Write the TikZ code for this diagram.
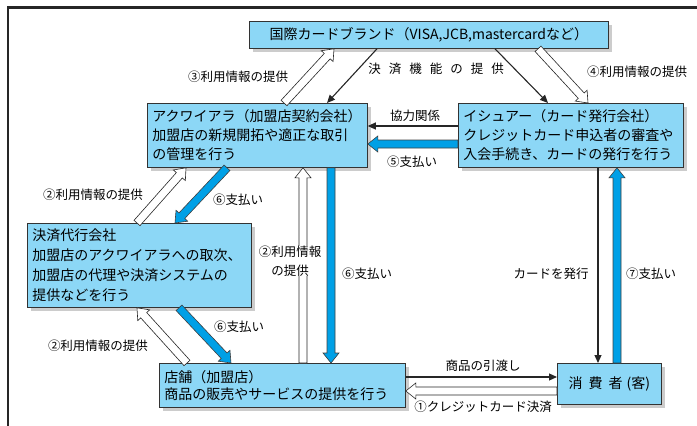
\documentclass[tikz,border=0pt]{standalone}
\usepackage{fontspec}
\setmainfont{Noto Sans CJK JP}
\usetikzlibrary{calc,shadows,arrows.meta}
\definecolor{boxblue}{RGB}{140,215,246}
\definecolor{payblue}{RGB}{0,160,230}
\newcommand\boxfont{\fontsize{14}{19}\selectfont}
\newcommand\lblfont{\fontsize{12.5}{19}\selectfont}
\def\sw{4pt}\def\hw{8pt}\def\hl{10pt}
\newcommand\blockarrow[3]{%
  \coordinate (bah) at ($(#3)!\hl!(#2)$);
  \draw[#1] ($(#2)!\sw!90:(#3)$) -- ($(bah)!\sw!-90:(#2)$) -- ($(bah)!\hw!-90:(#2)$) -- (#3)
    -- ($(bah)!\hw!90:(#2)$) -- ($(bah)!\sw!90:(#2)$) -- ($(#2)!\sw!-90:(#3)$) -- cycle;}
\tikzset{
  box/.style={draw=black!80, fill=boxblue, line width=0.8pt, inner xsep=5pt, inner ysep=0pt,
    anchor=north west, align=left, font=\boxfont,
    general shadow={fill=black!20, shadow xshift=4pt, shadow yshift=-4pt}},
  lbl/.style={font=\lblfont, inner sep=1pt, align=center},
  pay/.style={fill=payblue, draw=black!75, line width=0.6pt},
  info/.style={fill=white, draw=black!85, line width=0.6pt},
  thin/.style={draw=black!85, line width=1.1pt, -{Triangle[length=8pt,width=7pt]}},
  frame/.style={draw=black!85, line width=2.5pt}
}
\begin{document}
\begin{tikzpicture}[x=1pt,y=-1pt]
\useasboundingbox (0,0) rectangle (697,426);
\draw[frame] (8,426) -- (8,7.5) -- (697,7.5);

% boxes
\node[box, align=center, minimum width=359pt, minimum height=27pt, text width=349pt] (brand) at (249,21)
  {国際カードブランド（VISA,JCB,mastercardなど）};
\node[box, minimum width=220pt, minimum height=64pt, text width=210pt] (acq) at (147,103)
  {アクワイアラ（加盟店契約会社）\\加盟店の新規開拓や適正な取引\\の管理を行う};
\node[box, minimum width=225pt, minimum height=64pt, text width=215pt] (iss) at (458,103)
  {イシュアー（カード発行会社）\\クレジットカード申込者の審査や\\入会手続き、カードの発行を行う};
\node[box, font=\fontsize{14}{20}\selectfont, minimum width=224pt, minimum height=84pt, text width=214pt] (agt) at (27,223)
  {決済代行会社\\加盟店のアクワイアラへの取次、\\加盟店の代理や決済システムの\\提供などを行う};
\node[box, font=\fontsize{14}{17.5}\selectfont, minimum width=246pt, minimum height=44pt, text width=236pt] (shop) at (159,363)
  {店舗（加盟店）\\商品の販売やサービスの提供を行う};
\node[box, align=center, minimum width=104pt, minimum height=41pt, text width=94pt] (cons) at (557,363)
  {消\hspace{6pt}費\hspace{6pt}者\hspace{4pt}(客)};

% connector end points
\coordinate (p3a) at (acq.north -| 284,0);
\coordinate (p3b) at (brand.south -| 334,0);
\coordinate (k1a) at (brand.south -| 377,0);
\coordinate (k1b) at (acq.north -| 327,0);
\coordinate (k2a) at (brand.south -| 495,0);
\coordinate (k2b) at (iss.north -| 548,0);
\coordinate (p4a) at (brand.south -| 538,0);
\coordinate (p4b) at (iss.north -| 588,0);
\coordinate (c1a) at (iss.west |- 0,126);
\coordinate (c1b) at (acq.east |- 0,126);
\coordinate (p5a) at (iss.west |- 0,144);
\coordinate (p5b) at (acq.east |- 0,144);
\coordinate (p6a) at (acq.south -| 227,0);
\coordinate (p6b) at (agt.north -| 175,0);
\coordinate (p2a) at (agt.north -| 137,0);
\coordinate (p2b) at (acq.south -| 186,0);
\coordinate (p2c) at (shop.north -| 303,0);
\coordinate (p2d) at (acq.south -| 303,0);
\coordinate (p6c) at (acq.south -| 331,0);
\coordinate (p6d) at (shop.north -| 331,0);
\coordinate (p6e) at (agt.south -| 179,0);
\coordinate (p6f) at (shop.north -| 231,0);
\coordinate (p2e) at (shop.north -| 187,0);
\coordinate (p2f) at (agt.south -| 137,0);
\coordinate (cda) at (iss.south -| 598,0);
\coordinate (cdb) at (cons.north -| 598,0);
\coordinate (p7a) at (cons.north -| 617,0);
\coordinate (p7b) at (iss.south -| 617,0);
\coordinate (gda) at (shop.east |- 0,377);
\coordinate (gdb) at (cons.west |- 0,377);
\coordinate (p1a) at (cons.west |- 0,391);
\coordinate (p1b) at (shop.east |- 0,391);

% connectors
\blockarrow{info}{p3a}{p3b}
\draw[thin] (k1a) -- (k1b);
\draw[thin] (k2a) -- (k2b);
\blockarrow{info}{p4a}{p4b}
\draw[thin] (c1a) -- (c1b);
\blockarrow{pay}{p5a}{p5b}
\blockarrow{pay}{p6a}{p6b}
\blockarrow{info}{p2a}{p2b}
\blockarrow{info}{p2c}{p2d}
\blockarrow{pay}{p6c}{p6d}
\blockarrow{pay}{p6e}{p6f}
\blockarrow{info}{p2e}{p2f}
\draw[thin] (cda) -- (cdb);
\blockarrow{pay}{p7a}{p7b}
\draw[thin] (gda) -- (gdb);
\blockarrow{info}{p1a}{p1b}

% labels
\node[lbl] (l3) at (238,77) {③利用情報の提供};
\node[lbl] (lk) at (436,69) {決\hspace{8pt}済\hspace{8pt}機\hspace{8pt}能\hspace{8pt}の\hspace{8pt}提\hspace{8pt}供};
\node[lbl] (l4) at (637,72) {④利用情報の提供};
\node[lbl] (lc) at (415,116) {協力関係};
\node[lbl] (l5) at (412,162) {⑤支払い};
\node[lbl] (l2a) at (93,195) {②利用情報の提供};
\node[lbl] (l6a) at (238,200) {⑥支払い};
\node[lbl, fill=white, inner sep=0pt, font=\fontsize{12.5}{18.5}\selectfont] (l2b) at (290,261) {②利用情報\\の提供};
\node[lbl] (l6b) at (367,274) {⑥支払い};
\node[lbl] (l6c) at (239,327) {⑥支払い};
\node[lbl] (l2c) at (98,346) {②利用情報の提供};
\node[lbl] (lcd) at (551,274) {カードを発行};
\node[lbl] (l7) at (651,274) {⑦支払い};
\node[lbl] (lg) at (483,366) {商品の引渡し};
\node[lbl] (l1) at (483,407) {①クレジットカード決済};
\end{tikzpicture}
\end{document}
